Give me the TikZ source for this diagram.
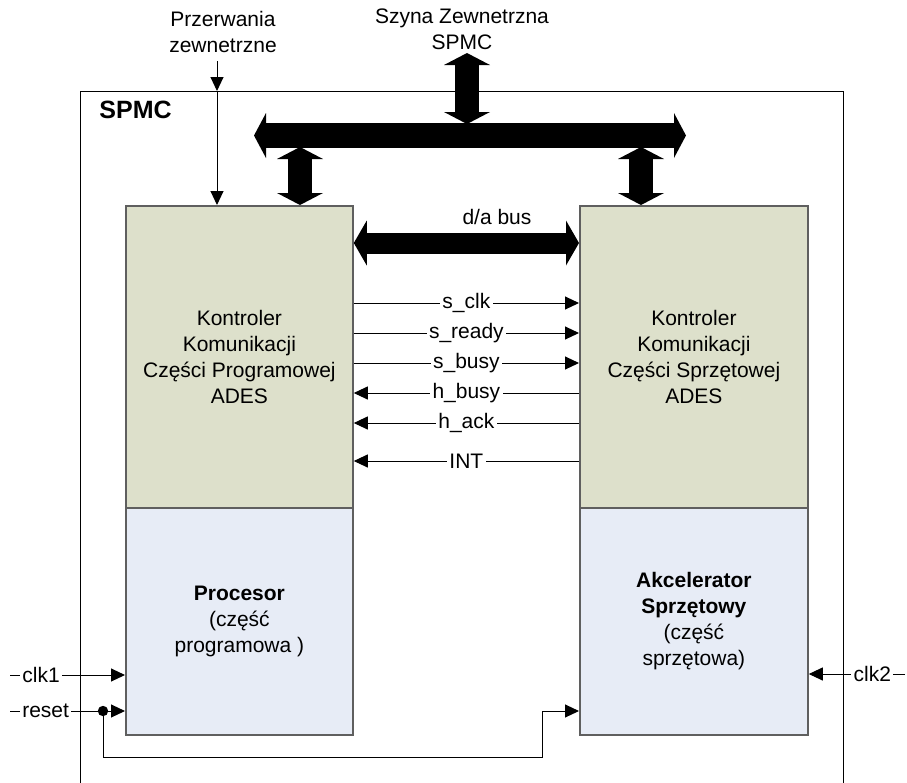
\documentclass[tikz,border=0pt]{standalone}
\usepackage{fontspec}
\setmainfont{Liberation Sans}
\usetikzlibrary{arrows.meta}
\definecolor{ctrlgreen}{RGB}{221,224,203}
\definecolor{cpublue}{RGB}{231,236,246}
\definecolor{boxedge}{RGB}{95,95,95}
\begin{document}
\begin{tikzpicture}[x=0.5pt,y=-0.5pt,
  every node/.style={font=\fontsize{10.5}{13}\selectfont, inner sep=0pt},
  block/.style={draw=boxedge, line width=0.9pt, align=center, anchor=north west},
  sig/.style={line width=0.5pt, -{Triangle[length=7pt,width=6.5pt]}},
  lbl/.style={fill=white, inner xsep=1.2pt, inner ysep=0.5pt},
  bigbus/.style={line width=12.5pt,
    {Triangle[length=6pt,width=22.5pt,line width=0pt]}-{Triangle[length=6pt,width=22.5pt,line width=0pt]}},
  dropbus/.style={line width=12pt,
    {Triangle[length=6pt,width=23pt,line width=0pt]}-{Triangle[length=6pt,width=23pt,line width=0pt]}},
  dabus/.style={line width=10.5pt,
    {Triangle[length=6.5pt,width=22.5pt,line width=0pt]}-{Triangle[length=6.5pt,width=22.5pt,line width=0pt]}}
]
\useasboundingbox (0,0) rectangle (907,783);

% outer SPMC frame (runs past the lower edge)
\draw[line width=0.5pt] (80,783) -- (80,91) -- (843,91) -- (843,783);
\node[anchor=west, font=\bfseries\fontsize{12.5}{15}\selectfont] (spmc) at (99,110) {SPMC};

% functional blocks
\node[block, fill=ctrlgreen, minimum width=113.5pt, minimum height=151pt] (kcp) at (125,205)
  {Kontroler\\Komunikacji\\Części Programowej\\ADES};
\node[block, fill=cpublue, minimum width=113.5pt, minimum height=113.5pt] (proc) at (125,507)
  {\textbf{Procesor}\\(część\\programowa )};
\node[block, fill=ctrlgreen, minimum width=114pt, minimum height=151pt] (kcs) at (579,205)
  {Kontroler\\Komunikacji\\Części Sprzętowej\\ADES};
\node[block, fill=cpublue, minimum width=114pt, minimum height=113.5pt] (acc) at (579,507)
  {\textbf{Akcelerator}\\\textbf{Sprzętowy}\\(część\\sprzętowa)};

% external labels
\node[align=center] (irqtxt) at (223,32) {Przerwania\\zewnetrzne};
\node[align=center] (exttxt) at (462,29) {Szyna Zewnetrzna\\SPMC};

% external interrupt line
\coordinate (irqTop) at (217,61);
\coordinate (irqEdge) at (217,91);
\draw[sig] (irqTop) -- (irqEdge);
\draw[sig] (irqEdge) -- (irqEdge |- kcp.north);

% external bus and its drops
\coordinate (busL) at (254,135.5);
\coordinate (busR) at (686,135.5);
\draw[bigbus] (busL) -- (busR);
\coordinate (extTop) at (467,53);
\coordinate (extBot) at (467,124);
\draw[dropbus] (extTop) -- (extBot);
\coordinate (dropL) at (300,147);
\coordinate (dropR) at (641,147);
\draw[dropbus] (dropL) -- (dropL |- kcp.north);
\draw[dropbus] (dropR) -- (dropR |- kcs.north);

% data/address bus between controllers
\coordinate (yda) at (0,243);
\draw[dabus] (kcp.east |- yda) -- (kcs.west |- yda);
\node (datxt) at (497,217) {d/a bus};

% handshake signals
\coordinate (ys1) at (0,303);
\coordinate (ys2) at (0,333);
\coordinate (ys3) at (0,363);
\coordinate (ys4) at (0,393);
\coordinate (ys5) at (0,423);
\coordinate (ys6) at (0,461);
\draw[sig] (kcp.east |- ys1) -- (kcs.west |- ys1) node[midway, lbl] {s\_clk};
\draw[sig] (kcp.east |- ys2) -- (kcs.west |- ys2) node[midway, lbl] {s\_ready};
\draw[sig] (kcp.east |- ys3) -- (kcs.west |- ys3) node[midway, lbl] {s\_busy};
\draw[sig] (kcs.west |- ys4) -- (kcp.east |- ys4) node[midway, lbl] {h\_busy};
\draw[sig] (kcs.west |- ys5) -- (kcp.east |- ys5) node[midway, lbl] {h\_ack};
\draw[sig] (kcs.west |- ys6) -- (kcp.east |- ys6) node[midway, lbl] {INT};

% clocks and reset
\coordinate (clkA) at (10,675);
\draw[sig] (clkA) -- (clkA -| proc.west) node[pos=0.27, lbl] {clk1};
\coordinate (clkB) at (905,674);
\draw[sig] (clkB) -- (clkB -| acc.east) node[pos=0.34, lbl] {clk2};
\coordinate (rstA) at (10,711);
\coordinate (rstDot) at (103,711);
\coordinate (rstTurn) at (542,757);
\draw[sig] (rstA) -- (rstA -| proc.west) node[pos=0.31, lbl] {reset};
\fill (rstDot) circle (2.6pt);
\draw[sig] (rstDot) |- (rstTurn) |- (rstA -| acc.west);
\end{tikzpicture}
\end{document}
